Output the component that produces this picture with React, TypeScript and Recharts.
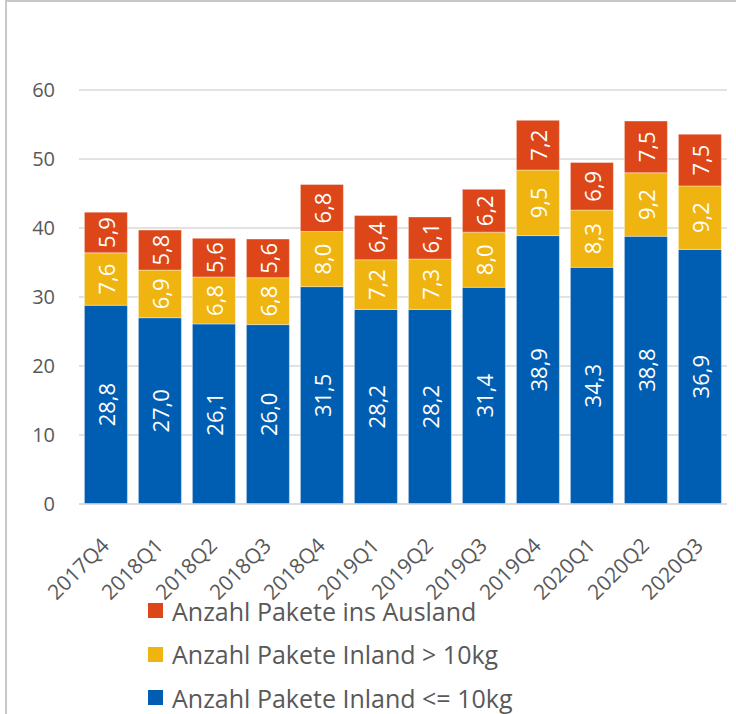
import React from 'react';
import { BarChart, Bar, XAxis, YAxis, CartesianGrid, LabelList, Legend } from 'recharts';

const categories = ['2017Q4', '2018Q1', '2018Q2', '2018Q3', '2018Q4', '2019Q1', '2019Q2', '2019Q3', '2019Q4', '2020Q1', '2020Q2', '2020Q3'];
const inlandSmall = [28.8, 27.0, 26.1, 26.0, 31.5, 28.2, 28.2, 31.4, 38.9, 34.3, 38.8, 36.9];
const inlandLarge = [7.6, 6.9, 6.8, 6.8, 8.0, 7.2, 7.3, 8.0, 9.5, 8.3, 9.2, 9.2];
const ausland = [5.9, 5.8, 5.6, 5.6, 6.8, 6.4, 6.1, 6.2, 7.2, 6.9, 7.5, 7.5];
const yTicks = [0, 10, 20, 30, 40, 50, 60];

const series = [
  { key: 'small', name: 'Anzahl Pakete Inland <= 10kg', color: '#005EB2' },
  { key: 'large', name: 'Anzahl Pakete Inland > 10kg', color: '#F0B410' },
  { key: 'abroad', name: 'Anzahl Pakete ins Ausland', color: '#DC4618' },
];

const data = categories.map((c, i) => ({
  cat: c,
  small: inlandSmall[i],
  large: inlandLarge[i],
  abroad: ausland[i],
}));

const FONT = '"Open Sans", "Noto Sans", sans-serif';
const TEXT = '#595959';

const fmt = (v: number) => v.toFixed(1).replace('.', ',');

const SegLabel = (props: any) => {
  const { x, y, width, height, value } = props;
  const cx = x + width / 2;
  const cy = y + height / 2;
  return (
    <text
      x={cx}
      y={cy}
      transform={`rotate(-90, ${cx}, ${cy})`}
      textAnchor="middle"
      dominantBaseline="central"
      fill="#FFFFFF"
      fontSize={22}
      fontFamily={FONT}
    >
      {fmt(Number(value))}
    </text>
  );
};

const XTick = (props: any) => {
  const { x, y, payload } = props;
  return (
    <g transform={`translate(${x + 4.5}, ${y + 35})`}>
      <text
        x={0}
        y={0}
        transform="rotate(-45)"
        textAnchor="end"
        fill={TEXT}
        fontSize={21}
        fontFamily={FONT}
      >
        {payload.value}
      </text>
    </g>
  );
};

const LegendContent = () => {
  const items = [...series].reverse();
  return (
    <div style={{ height: 125, position: 'relative', fontFamily: FONT }}>
      {items.map((s, i) => (
        <div
          key={s.key}
          style={{
            position: 'absolute',
            left: 148,
            top: i * 43.5,
            height: 43,
            display: 'flex',
            alignItems: 'center',
            whiteSpace: 'nowrap',
          }}
        >
          <span style={{ display: 'inline-block', width: 15, height: 15, background: s.color, marginRight: 9 }} />
          <span style={{ fontSize: 25, color: TEXT }}>{s.name}</span>
        </div>
      ))}
    </div>
  );
};

export default function App() {
  return (
    <div style={{ position: 'absolute', left: 0, top: 0, width: 736, height: 714, overflow: 'hidden', background: '#fff' }}>
      <div
        style={{
          position: 'absolute',
          left: 5,
          top: 0,
          width: 800,
          height: 800,
          borderLeft: '2px solid #C8C8C8',
          borderTop: '2px solid #C8C8C8',
        }}
      />
      <BarChart
        width={736}
        height={714}
        data={data}
        margin={{ top: 90, right: 9, left: 0, bottom: 0 }}
        barCategoryGap="10%"
      >
        <CartesianGrid vertical={false} stroke="#D9D9D9" strokeWidth={1.5} />
        <XAxis
          dataKey="cat"
          interval={0}
          height={85}
          tickLine={false}
          axisLine={{ stroke: '#D9D9D9', strokeWidth: 1.5 }}
          tick={<XTick />}
        />
        <YAxis
          width={79}
          domain={[0, 60]}
          ticks={yTicks}
          axisLine={false}
          tickLine={false}
          tickSize={0}
          tickMargin={24}
          tick={{ fill: TEXT, fontSize: 20, fontFamily: FONT }}
        />
        <Legend
          verticalAlign="bottom"
          align="left"
          layout="horizontal"
          wrapperStyle={{ left: 0, width: 736 }}
          content={<LegendContent />}
        />
        {series.map((s) => (
          <Bar
            key={s.key}
            dataKey={s.key}
            name={s.name}
            stackId="a"
            fill={s.color}
            stroke="rgba(255,255,255,0.5)"
            strokeWidth={0.75}
            isAnimationActive={false}
          >
            <LabelList dataKey={s.key} content={<SegLabel />} />
          </Bar>
        ))}
      </BarChart>
    </div>
  );
}
